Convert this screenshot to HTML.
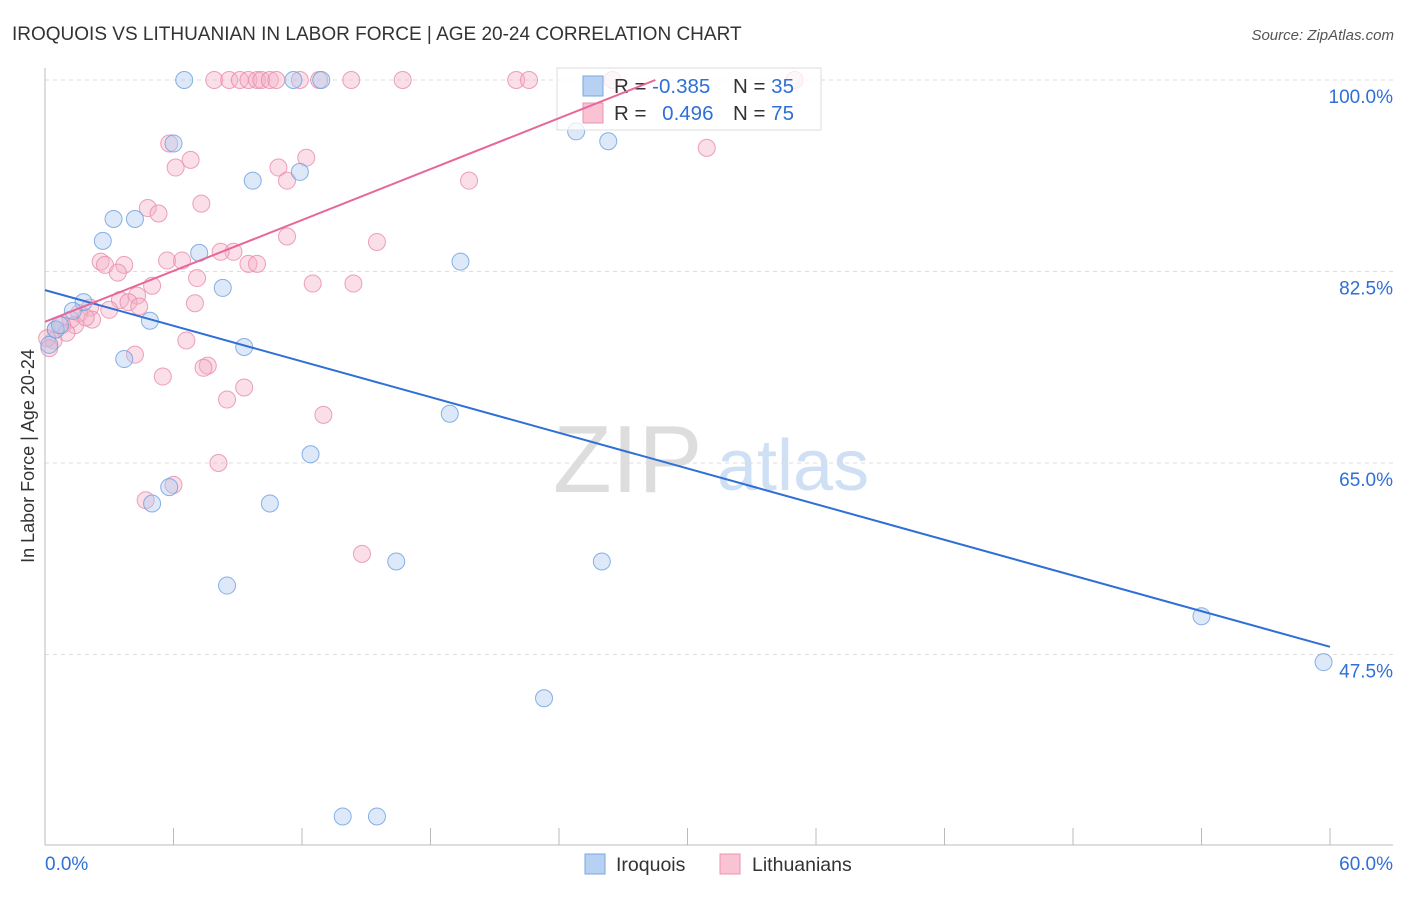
<!DOCTYPE html>
<html><head><meta charset="utf-8"><style>
body{margin:0;background:#fff;font-family:"Liberation Sans",sans-serif}
svg text{font-family:"Liberation Sans",sans-serif}
</style></head><body>
<svg id="chart" width="1406" height="892">
<text x="12" y="40" font-size="19" fill="#333">IROQUOIS VS LITHUANIAN IN LABOR FORCE | AGE 20-24 CORRELATION CHART</text>
<text x="1394" y="40" font-size="15" fill="#555" font-style="italic" text-anchor="end">Source: ZipAtlas.com</text>
<text x="34" y="456" font-size="18" fill="#333" text-anchor="middle" transform="rotate(-90 34 456)">In Labor Force | Age 20-24</text>
<g><text x="553" y="492" font-size="96" fill="#ddd" font-family="Liberation Serif" >ZIP</text><text x="717" y="490" font-size="72" fill="#cfe0f5">atlas</text></g>
<g id="grid"></g><g id="axes"></g><g id="pts"></g>
<g>
<rect x="557" y="68" width="264" height="62" fill="#fff" fill-opacity="0.75" stroke="#ddd"/>
<rect x="583" y="76" width="20" height="20" fill="#b7d1f3" stroke="#7aa7e0"/>
<rect x="583" y="103" width="20" height="20" fill="#f9c3d4" stroke="#ea93b0"/>
<text x="614" y="93" font-size="20.5" fill="#333">R = <tspan fill="#2f6fd6">-0.385</tspan></text>
<text x="733" y="93" font-size="20.5" fill="#333">N = <tspan fill="#2f6fd6">35</tspan></text>
<text x="614" y="120" font-size="20.5" fill="#333">R = <tspan fill="#2f6fd6" dx="10">0.496</tspan></text>
<text x="733" y="120" font-size="20.5" fill="#333">N = <tspan fill="#2f6fd6">75</tspan></text>
</g>
<g id="lines"></g>
<g>
<rect x="585" y="854" width="20" height="20" fill="#b7d1f3" stroke="#7aa7e0"/>
<text x="616" y="871" font-size="19.5" fill="#333">Iroquois</text>
<rect x="720" y="854" width="20" height="20" fill="#f9c3d4" stroke="#ea93b0"/>
<text x="752" y="871" font-size="19.5" fill="#333">Lithuanians</text>
</g>
</svg>
<script>
const yTicks=[100,82.5,65,47.5];
const yTickLabels=["100.0%","82.5%","65.0%","47.5%"];
const xTicks=[0,6,12,18,24,30,36,42,48,54,60];
const blueX=[6.5,11.6,12.9,6.0,24.8,26.3,9.7,11.9,3.2,4.2,2.7,7.2,19.4,8.3,1.8,1.3,4.9,9.3,3.7,18.9,12.4,5.8,5.0,10.5,16.4,26.0,8.5,54.0,59.7,23.3,13.9,15.5,0.2,0.5,0.7];
const blueY=[100,100,100,94.2,95.3,94.4,90.8,91.6,87.3,87.3,85.3,84.2,83.4,81.0,79.7,78.9,78.0,75.6,74.5,69.5,65.8,62.8,61.3,61.3,56.0,56.0,53.8,51.0,46.8,43.5,32.7,32.7,75.8,77.2,77.6];
const pinkX=[7.9,8.6,9.1,9.5,9.9,10.1,10.5,10.8,11.9,12.8,14.3,16.7,22.0,22.6,26.5,35.0,5.8,6.8,6.1,10.9,12.2,11.3,19.8,30.9,4.8,5.3,7.3,11.3,15.5,8.8,8.2,5.7,6.4,2.6,2.8,3.7,9.5,9.9,12.5,14.4,7.1,3.4,5.0,4.3,3.5,3.9,7.0,4.4,3.0,2.1,1.6,2.2,1.2,1.4,0.8,0.5,1.0,0.4,0.1,6.6,4.2,7.6,7.4,5.5,9.3,8.5,13.0,8.1,4.7,6.0,14.8,0.2,1.9];
const pinkY=[100,100,100,100,100,100,100,100,100,100,100,100,100,100,100,100,94.2,92.7,92.0,92.0,92.9,90.8,90.8,93.8,88.3,87.8,88.7,85.7,85.2,84.3,84.3,83.5,83.5,83.4,83.1,83.1,83.2,83.2,81.4,81.4,81.9,82.4,81.2,80.3,79.9,79.7,79.6,79.3,79.0,79.2,78.7,78.1,78.1,77.6,77.6,77.2,76.9,76.2,76.4,76.2,74.9,73.9,73.7,72.9,71.9,70.8,69.4,65.0,61.6,63.0,56.7,75.5,78.3];
const blueTrend=[80.8,48.2];
const pinkTrend=[77.9,100];
const pinkTrendEnd=28.5;
const X=v=>45+v*1285/60, Y=v=>80+(100-v)*191.5/17.5;
const NS="http://www.w3.org/2000/svg";
function mk(p,t,a){const e=document.createElementNS(NS,t);for(const k in a)e.setAttribute(k,a[k]);p.appendChild(e);return e;}
const grid=document.getElementById('grid'),axes=document.getElementById('axes'),lines=document.getElementById('lines'),pts=document.getElementById('pts');
yTicks.forEach((t,i)=>{
 const l=mk(grid,'line',{x1:45,x2:1393,y1:Y(t),y2:Y(t),stroke:'#ddd','stroke-dasharray':'4 4'});
 
 
 const tx=mk(axes,'text',{x:1393,y:Y(t)+23,'font-size':19,fill:'#2f6fd6','text-anchor':'end'});tx.textContent=yTickLabels[i];
 
 
});
const ax=mk(axes,'line',{x1:45,x2:45,y1:68,y2:845,stroke:'#bbb'});


const bx=mk(axes,'line',{x1:45,x2:1393,y1:845,y2:845,stroke:'#bbb'});


xTicks.forEach(t=>{const l=mk(axes,'line',{x1:X(t),x2:X(t),y1:828,y2:845,stroke:'#bbb'});
 
 });
const x0=mk(axes,'text',{x:45,y:870,'font-size':19,fill:'#2f6fd6'});x0.textContent=xTicks[0].toFixed(1)+'%';


const x1=mk(axes,'text',{x:1393,y:870,'font-size':19,fill:'#2f6fd6','text-anchor':'end'});x1.textContent=xTicks[xTicks.length-1].toFixed(1)+'%';


function dots(xs,ys,fill,stroke,name){xs.forEach((v,i)=>{const c=mk(pts,'circle',{cx:X(v),cy:Y(ys[i]),r:8.5,fill:fill,'fill-opacity':0.4,stroke:stroke,'stroke-opacity':0.8,'stroke-width':1});
 
 });}
dots(pinkX,pinkY,'#f5b0c6','#e88aa8','lithuanian-point');
dots(blueX,blueY,'#a9c8f0','#6a9fe0','iroquois-point');
const bl=mk(lines,'line',{x1:X(0),y1:Y(blueTrend[0]),x2:X(60),y2:Y(blueTrend[1]),stroke:'#2f6fd6','stroke-width':2});


const pl=mk(lines,'line',{x1:X(0),y1:Y(pinkTrend[0]),x2:X(pinkTrendEnd),y2:Y(pinkTrend[1]),stroke:'#e8679a','stroke-width':2});


</script>
</body></html>
